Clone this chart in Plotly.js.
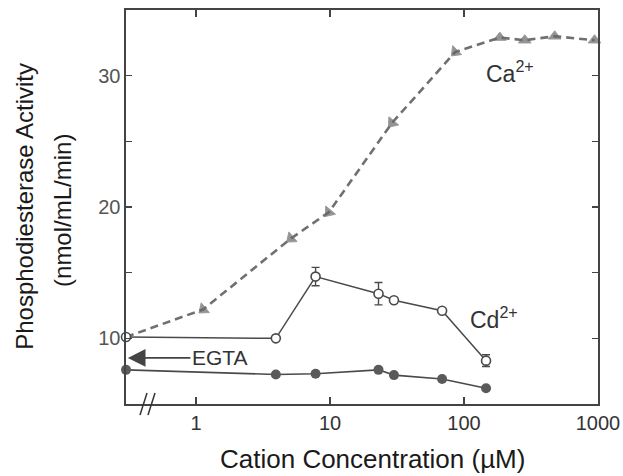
<!DOCTYPE html>
<html>
<head>
<meta charset="utf-8">
<script src="https://cdn.plot.ly/plotly-3.0.1.min.js"></script>
<style>
html,body{margin:0;padding:0;background:#fff;}
#chart{width:623px;height:476px;}
</style>
</head>
<body>
<div id="chart"></div>
<script>
// Data
const caConc = [0.3, 1.13, 5.1, 9.8, 29, 86, 185, 284, 475, 942];
const caActivity = [10.1, 12.2, 17.6, 19.6, 26.4, 31.8, 32.9, 32.7, 33.0, 32.7];

const cdConc = [0.3, 3.94, 7.8, 23, 30, 68.6, 146];
const cdActivity = [10.1, 10.0, 14.7, 13.4, 12.9, 12.1, 8.3];
const cdError = [0, 0, 0.7, 0.85, 0, 0, 0.45];

const egtaConc = [0.3, 3.94, 7.8, 23, 30, 68.6, 146];
const egtaActivity = [7.6, 7.25, 7.3, 7.6, 7.2, 6.9, 6.2];

const xTickVals = [1, 10, 100, 1000];
const xTickText = ['1', '10', '100', '1000'];
const yTickVals = [10, 20, 30];
const yTickText = ['10', '20', '30'];
const yMinorTickVals = [15, 25];

const FONT = 'Liberation Sans, Arial, Helvetica, sans-serif';

const traces = [
  {
    x: caConc, y: caActivity, type: 'scatter', mode: 'lines+markers',
    name: 'Ca2+', cliponaxis: false,
    line: {color: '#707070', width: 2.6, dash: '8px,5px'},
    marker: {
      symbol: 'triangle-up', color: '#666666',
      size: [0, 11, 11, 11, 11, 11, 11, 11, 11, 11],
      angle: [0, -130, -130, -140, -140, -135, 0, 0, 0, 0]
    }
  },
  {
    x: cdConc, y: cdActivity, type: 'scatter', mode: 'lines+markers',
    name: 'Cd2+', cliponaxis: false,
    line: {color: '#4a4a4a', width: 1.5},
    marker: {symbol: 'circle', size: 9, color: '#ffffff', line: {color: '#4a4a4a', width: 1.6}},
    error_y: {type: 'data', array: cdError, visible: true, color: '#4a4a4a', thickness: 1.4, width: 4}
  },
  {
    x: egtaConc, y: egtaActivity, type: 'scatter', mode: 'lines+markers',
    name: 'EGTA', cliponaxis: false,
    line: {color: '#4a4a4a', width: 1.6},
    marker: {symbol: 'circle', size: 10, color: '#5a5a5a'}
  }
];

const layout = {
  width: 623, height: 476,
  margin: {l: 126, r: 25, t: 10, b: 72},
  paper_bgcolor: '#ffffff', plot_bgcolor: '#ffffff',
  showlegend: false,
  font: {family: FONT, color: '#222'},
  xaxis: {
    type: 'log', range: [Math.log10(0.3), 3],
    tickvals: xTickVals, ticktext: xTickText,
    ticks: 'inside', ticklen: 7, tickwidth: 1.2, tickcolor: '#444',
    showline: true, linecolor: '#444', linewidth: 1.6, mirror: 'ticks',
    showgrid: false, zeroline: false,
    tickfont: {family: FONT, size: 20, color: '#333'}
  },
  yaxis: {
    range: [5, 35],
    tickvals: yTickVals, ticktext: yTickText,
    ticks: 'inside', ticklen: 6, tickwidth: 1.2, tickcolor: '#444',
    showline: true, linecolor: '#444', linewidth: 1.6, mirror: 'ticks',
    showgrid: false, zeroline: false,
    minor: {tickvals: yMinorTickVals, ticks: 'inside', ticklen: 6, tickwidth: 1.2, tickcolor: '#444', showgrid: false},
    tickfont: {family: FONT, size: 20, color: '#555'}
  },
  annotations: [
    {xref: 'paper', yref: 'paper', x: 0.523, y: -0.14, xanchor: 'center', yanchor: 'middle',
     text: 'Cation Concentration (µM)', showarrow: false,
     font: {family: FONT, size: 26, color: '#1a1a1a'}},
    {xref: 'paper', yref: 'paper', x: -0.214, y: 0.503, xanchor: 'center', yanchor: 'middle',
     text: 'Phosphodiesterase Activity', textangle: -90, showarrow: false,
     font: {family: FONT, size: 24, color: '#1a1a1a'}},
    {xref: 'paper', yref: 'paper', x: -0.136, y: 0.492, xanchor: 'center', yanchor: 'middle',
     text: '(nmol/mL/min)', textangle: -90, showarrow: false,
     font: {family: FONT, size: 24, color: '#1a1a1a'}},
    {xref: 'paper', yref: 'paper', x: 0.8136, y: 0.843, xanchor: 'center', yanchor: 'middle',
     text: 'Ca<sup>2+</sup>', showarrow: false,
     font: {family: FONT, size: 23, color: '#333'}},
    {xref: 'paper', yref: 'paper', x: 0.78, y: 0.218, xanchor: 'center', yanchor: 'middle',
     text: 'Cd<sup>2+</sup>', showarrow: false,
     font: {family: FONT, size: 23, color: '#333'}},
    {xref: 'paper', yref: 'paper', x: 0.004, y: 0.117,
     text: 'EGTA', showarrow: true, ax: 92, ay: 0,
     arrowhead: 2, arrowsize: 2.2, arrowwidth: 1.6, arrowcolor: '#444',
     font: {family: FONT, size: 21, color: '#333'}}
  ],
  shapes: [
    {type: 'line', xref: 'paper', yref: 'paper', xsizemode: 'pixel', ysizemode: 'pixel',
     xanchor: 0, yanchor: 0, x0: 14, x1: 21, y0: -11, y1: 11,
     line: {color: '#333', width: 1.5}},
    {type: 'line', xref: 'paper', yref: 'paper', xsizemode: 'pixel', ysizemode: 'pixel',
     xanchor: 0, yanchor: 0, x0: 22, x1: 29, y0: -11, y1: 11,
     line: {color: '#333', width: 1.5}}
  ]
};

Plotly.newPlot('chart', traces, layout, {displayModeBar: false, staticPlot: true});
</script>
</body>
</html>
